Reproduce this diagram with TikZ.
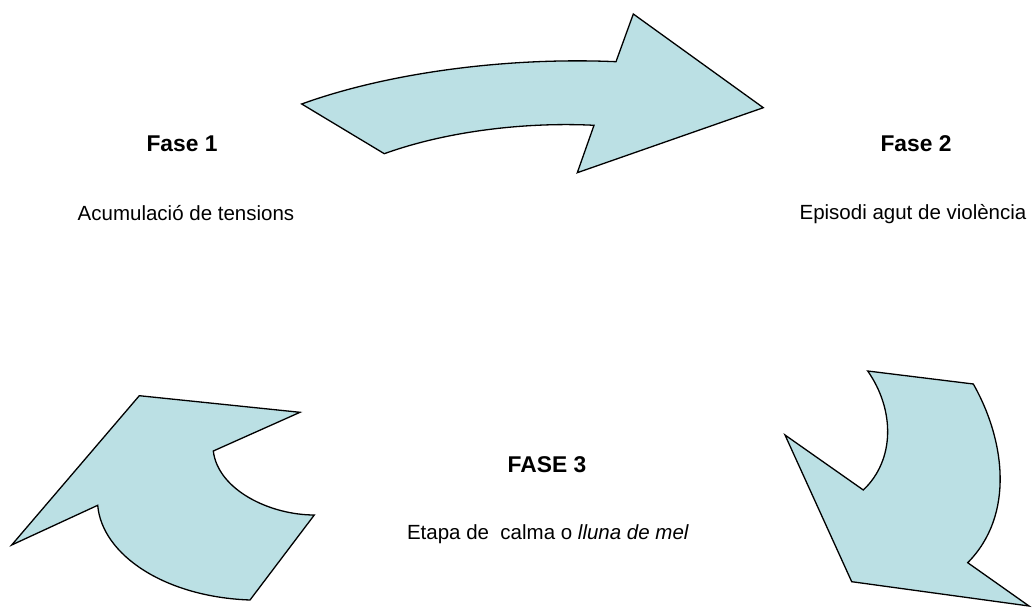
\documentclass[tikz,border=0pt]{standalone}
\usepackage{fontspec}
\setmainfont{Liberation Sans}
\definecolor{arrowfill}{RGB}{187,224,228}
\tikzset{
  bigarrow/.style={draw=black, fill=arrowfill, line width=1.3pt, line join=miter},
  phase/.style={anchor=base, inner sep=0pt, font=\fontsize{22.8}{26}\selectfont\bfseries},
  desc/.style={anchor=base, inner sep=0pt, font=\fontsize{20.5}{24}\selectfont}
}
\begin{document}
\begin{tikzpicture}[x=1pt,y=-1pt]
\useasboundingbox (0,0) rectangle (1033,612);
% top arrow (Fase 1 -> Fase 2)
\path[bigarrow] (301.7,104) .. controls (390,72) and (510,57) .. (616,61.7)
  -- (633.3,14) -- (763.3,107.7) -- (577.3,172.7) -- (594,125.3)
  .. controls (530,122) and (450,130) .. (384.3,153.7) -- cycle;
% right arrow (Fase 2 -> Fase 3)
\path[bigarrow] (867.7,371) -- (973.3,384)
  .. controls (1005,440) and (1015,515) .. (967.7,562.7)
  -- (1029,606) -- (851.7,581.7) -- (785,435) -- (863.3,490)
  .. controls (895,460) and (895,410) .. (867.7,371) -- cycle;
% left arrow (Fase 3 -> Fase 1)
\path[bigarrow] (139.3,395.7) -- (300,412.3) -- (213.3,451)
  .. controls (218,490) and (270,515) .. (314.3,515)
  -- (250,600)
  .. controls (165,597) and (102,555) .. (97.7,505.3)
  -- (11.7,545) -- cycle;
% texts
\node[phase] (f1) at (182,152) {Fase 1};
\node[desc] (d1) at (186,221) {Acumulació de tensions};
\node[phase] (f2) at (916,152) {Fase 2};
\node[desc] (d2) at (913,220) {Episodi agut de violència};
\node[phase] (f3) at (547,472) {FASE 3};
\node[desc] (d3) at (548,539) {Etapa de\ \ calma o \textit{lluna de mel}};
\end{tikzpicture}
\end{document}
